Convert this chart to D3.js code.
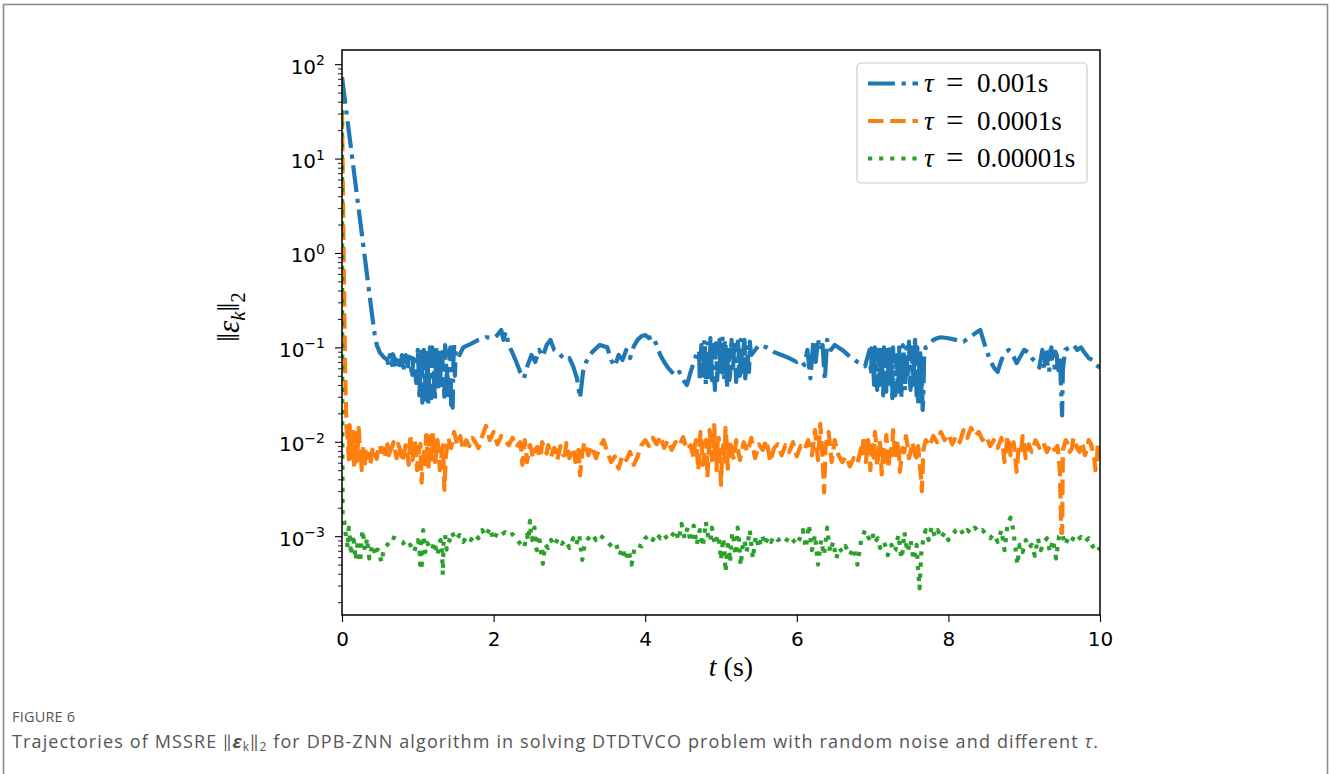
<!DOCTYPE html>
<html lang="en">
<head>
  <meta charset="UTF-8">
  <title>MSSRE trajectories</title>
  <style>
    body { margin: 0; background: #fff; }
    .axis path, .axis line { stroke: #000; }
    .tick text { font: 20px "DejaVu Sans", sans-serif; fill: #000; }
    .math { font-family: "Liberation Serif", "DejaVu Serif", serif; fill: #000; }
    .cap { font-family: "Open Sans", "Lato", sans-serif; fill: #555; }
  </style>
</head>
<body>
  <svg class="chart" width="1330" height="774"></svg>
  <script src="https://cdn.jsdelivr.net/npm/d3@7"></script>
  <script>
    // tick values
    var xTicks = [0, 2, 4, 6, 8, 10];
    var yExponents = [-3, -2, -1, 0, 1, 2];

    var seriesNames = ["0.001s", "0.0001s", "0.00001s"];

    // tau = 0.001s  [t, ||e||]
    var blue = [
      [0, 73], [0.1, 16.9], [0.2, 3.9], [0.3, 0.91], [0.4, 0.21], [0.43, 0.14], [0.46, 0.105], [0.5, 0.088], [0.55, 0.079],
      [0.6, 0.0735], [0.63, 0.083], [0.66, 0.065], [0.69, 0.077], [0.72, 0.061], [0.75, 0.08], [0.78, 0.07], [0.81, 0.055],
      [0.84, 0.083], [0.87, 0.063], [0.9, 0.089], [0.93, 0.051], [0.96, 0.0735], [0.98, 0.042], [1.0, 0.094],
      [1.02, 0.031], [1.04, 0.083], [1.06, 0.026], [1.08, 0.094], [1.1, 0.035], [1.12, 0.07], [1.14, 0.0245], [1.16, 0.1],
      [1.18, 0.029], [1.2, 0.077], [1.22, 0.034], [1.24, 0.103], [1.26, 0.04], [1.28, 0.0735], [1.3, 0.045], [1.32, 0.089],
      [1.34, 0.055], [1.36, 0.106], [1.38, 0.04], [1.4, 0.031], [1.42, 0.089], [1.44, 0.0245], [1.46, 0.023], [1.48, 0.106],
      [1.5, 0.094], [1.55, 0.083], [1.6, 0.1], [1.7, 0.109], [1.8, 0.12], [1.9, 0.128], [2.0, 0.125], [2.05, 0.135],
      [2.1, 0.153], [2.13, 0.12], [2.16, 0.146], [2.2, 0.106], [2.25, 0.087], [2.3, 0.07], [2.35, 0.055], [2.4, 0.047],
      [2.45, 0.065], [2.5, 0.083], [2.55, 0.07], [2.6, 0.094], [2.65, 0.08], [2.7, 0.106], [2.75, 0.12], [2.8, 0.094],
      [2.85, 0.089], [2.9, 0.08], [2.95, 0.0735], [3.0, 0.077], [3.05, 0.063], [3.1, 0.047], [3.14, 0.029], [3.18, 0.055],
      [3.22, 0.07], [3.3, 0.089], [3.4, 0.106], [3.5, 0.1], [3.55, 0.0735], [3.6, 0.063], [3.65, 0.083], [3.7, 0.0735],
      [3.75, 0.094], [3.8, 0.077], [3.85, 0.103], [3.9, 0.12], [3.95, 0.131], [4.0, 0.135], [4.05, 0.125], [4.1, 0.131],
      [4.15, 0.106], [4.2, 0.083], [4.25, 0.07], [4.3, 0.061], [4.35, 0.055], [4.4, 0.05], [4.45, 0.055], [4.5, 0.045],
      [4.55, 0.04], [4.6, 0.055], [4.65, 0.0735], [4.7, 0.094],
      [4.72, 0.047], [4.74, 0.106], [4.76, 0.058], [4.78, 0.12], [4.8, 0.04], [4.82, 0.094], [4.84, 0.055], [4.86, 0.125],
      [4.88, 0.045], [4.9, 0.106], [4.92, 0.0354], [4.94, 0.083], [4.96, 0.065], [4.98, 0.12], [5.0, 0.051], [5.02, 0.131],
      [5.04, 0.045], [5.06, 0.106], [5.08, 0.037], [5.1, 0.094], [5.12, 0.051], [5.14, 0.12], [5.16, 0.061], [5.18, 0.106],
      [5.2, 0.043], [5.22, 0.115], [5.24, 0.055], [5.26, 0.12], [5.28, 0.065], [5.3, 0.106], [5.32, 0.047], [5.34, 0.1],
      [5.36, 0.065], [5.38, 0.115], [5.4, 0.083],
      [5.5, 0.106], [5.6, 0.1], [5.7, 0.089], [5.8, 0.083], [5.9, 0.077], [6.0, 0.07], [6.05, 0.0735], [6.1, 0.065],
      [6.14, 0.094], [6.18, 0.047], [6.22, 0.12], [6.25, 0.07], [6.28, 0.125], [6.3, 0.094], [6.34, 0.106], [6.37, 0.045],
      [6.4, 0.12], [6.45, 0.094], [6.5, 0.106], [6.6, 0.094], [6.7, 0.08], [6.8, 0.07], [6.9, 0.063],
      [6.96, 0.094], [6.98, 0.051], [7.0, 0.106], [7.02, 0.04], [7.04, 0.083], [7.06, 0.0354], [7.08, 0.094], [7.1, 0.047],
      [7.12, 0.106], [7.14, 0.031], [7.16, 0.0735], [7.18, 0.034], [7.2, 0.094], [7.22, 0.037], [7.24, 0.106], [7.26, 0.029],
      [7.28, 0.065], [7.3, 0.031], [7.32, 0.083], [7.34, 0.034], [7.36, 0.055], [7.38, 0.029], [7.4, 0.106], [7.42, 0.04],
      [7.44, 0.083], [7.46, 0.051], [7.48, 0.115], [7.5, 0.0354], [7.52, 0.1], [7.54, 0.045], [7.56, 0.12], [7.58, 0.031],
      [7.6, 0.0245], [7.62, 0.094], [7.64, 0.0277], [7.66, 0.0217], [7.68, 0.083], [7.7, 0.1], [7.75, 0.106], [7.8, 0.12],
      [7.85, 0.125], [7.9, 0.128], [8.0, 0.125], [8.1, 0.12], [8.2, 0.115], [8.3, 0.131], [8.38, 0.146], [8.42, 0.153],
      [8.46, 0.12], [8.5, 0.094], [8.55, 0.0735], [8.6, 0.061], [8.65, 0.055], [8.7, 0.0735], [8.75, 0.089], [8.8, 0.094],
      [8.85, 0.083], [8.9, 0.068], [8.95, 0.08], [9.0, 0.094], [9.05, 0.089], [9.1, 0.077], [9.15, 0.07], [9.2, 0.061],
      [9.24, 0.094], [9.27, 0.058], [9.3, 0.089], [9.33, 0.055], [9.36, 0.1], [9.4, 0.061], [9.43, 0.083], [9.46, 0.055],
      [9.49, 0.031], [9.5, 0.019], [9.51, 0.058], [9.54, 0.094], [9.6, 0.1], [9.65, 0.106], [9.7, 0.094], [9.75, 0.1],
      [9.8, 0.087], [9.85, 0.077], [9.9, 0.0735], [9.95, 0.065], [10.0, 0.061],
      // denser readings inside the noisy bursts
      [0.61, 0.065], [0.64, 0.075], [0.67, 0.085], [0.7, 0.068], [0.73, 0.075], [0.76, 0.065], [0.79, 0.083],
      [0.82, 0.066], [0.85, 0.072], [0.88, 0.08], [0.91, 0.06], [0.94, 0.085], [0.97, 0.05], [0.99, 0.07],
      [1.01, 0.06], [1.03, 0.045], [1.05, 0.09], [1.07, 0.04], [1.09, 0.075], [1.11, 0.028], [1.13, 0.095], [1.15, 0.05],
      [1.17, 0.04], [1.19, 0.1], [1.21, 0.06], [1.23, 0.03], [1.25, 0.085], [1.27, 0.035], [1.29, 0.095], [1.31, 0.04],
      [1.33, 0.065], [1.35, 0.03], [1.37, 0.09], [1.39, 0.06], [1.41, 0.045], [1.43, 0.1], [1.45, 0.033], [1.47, 0.07],
      [1.49, 0.05],
      [4.71, 0.09], [4.73, 0.06], [4.75, 0.085], [4.77, 0.05], [4.79, 0.09], [4.81, 0.06], [4.83, 0.11], [4.85, 0.045],
      [4.87, 0.09], [4.89, 0.07], [4.91, 0.05], [4.93, 0.11], [4.95, 0.045], [4.97, 0.09], [4.99, 0.06], [5.01, 0.08],
      [5.03, 0.055], [5.05, 0.12], [5.07, 0.06], [5.09, 0.085], [5.11, 0.045], [5.13, 0.09], [5.15, 0.055], [5.17, 0.09],
      [5.19, 0.07], [5.21, 0.06], [5.23, 0.1], [5.25, 0.05], [5.27, 0.09], [5.29, 0.055], [5.31, 0.12], [5.33, 0.06],
      [5.35, 0.1], [5.37, 0.055], [5.39, 0.095],
      [6.97, 0.07], [6.99, 0.1], [7.01, 0.06], [7.03, 0.1], [7.05, 0.05], [7.07, 0.085], [7.09, 0.04], [7.11, 0.09],
      [7.13, 0.05], [7.15, 0.1], [7.17, 0.045], [7.19, 0.085], [7.21, 0.05], [7.23, 0.09], [7.25, 0.04], [7.27, 0.1],
      [7.29, 0.045], [7.31, 0.075], [7.33, 0.04], [7.35, 0.1], [7.37, 0.07], [7.39, 0.06], [7.41, 0.09], [7.43, 0.035],
      [7.45, 0.1], [7.47, 0.06], [7.49, 0.05], [7.51, 0.07], [7.53, 0.04], [7.55, 0.09], [7.57, 0.06], [7.59, 0.1],
      [7.61, 0.04], [7.63, 0.085], [7.65, 0.05], [7.67, 0.03], [7.69, 0.09],
      [9.25, 0.07], [9.28, 0.085], [9.31, 0.06], [9.34, 0.09], [9.37, 0.065], [9.41, 0.09], [9.44, 0.062], [9.47, 0.08]
    ];

    // tau = 0.0001s
    var orange = [
      [0, 30], [0.02, 1.2], [0.04, 0.06], [0.06, 0.014],
      [0.08, 0.0092], [0.1, 0.015], [0.12, 0.0061], [0.14, 0.0127], [0.16, 0.0055], [0.18, 0.0104], [0.2, 0.0072],
      [0.22, 0.014], [0.24, 0.0064], [0.26, 0.005], [0.28, 0.0092], [0.3, 0.0052], [0.33, 0.0067], [0.36, 0.0057],
      [0.4, 0.0082], [0.44, 0.0072], [0.48, 0.009], [0.52, 0.0078], [0.56, 0.0067], [0.6, 0.0094], [0.64, 0.0082],
      [0.68, 0.0099], [0.72, 0.0067], [0.76, 0.0086], [0.8, 0.0061], [0.84, 0.0092], [0.88, 0.0057], [0.9, 0.0118],
      [0.93, 0.0064], [0.96, 0.0104], [0.99, 0.005], [1.02, 0.0086], [1.05, 0.0037], [1.08, 0.0078], [1.11, 0.0118],
      [1.14, 0.0052], [1.17, 0.0092], [1.2, 0.0127], [1.23, 0.0061], [1.26, 0.0104], [1.29, 0.005], [1.32, 0.0082],
      [1.35, 0.0031], [1.37, 0.0072], [1.4, 0.011], [1.44, 0.0086], [1.48, 0.0127], [1.52, 0.0092], [1.56, 0.0115],
      [1.6, 0.0082], [1.64, 0.0104], [1.68, 0.009], [1.72, 0.011], [1.76, 0.0099], [1.8, 0.0086], [1.85, 0.0115],
      [1.9, 0.0147], [1.95, 0.0104], [2.0, 0.0127], [2.05, 0.0094], [2.1, 0.0115], [2.15, 0.0104], [2.2, 0.0092],
      [2.25, 0.011], [2.3, 0.0088], [2.35, 0.0099], [2.38, 0.0057], [2.41, 0.0104], [2.44, 0.0061], [2.48, 0.0092],
      [2.52, 0.0067], [2.56, 0.0086], [2.6, 0.0072], [2.64, 0.0099], [2.68, 0.0082], [2.72, 0.0092], [2.76, 0.007],
      [2.8, 0.0086], [2.84, 0.0064], [2.88, 0.009], [2.92, 0.0072], [2.96, 0.0097], [3.0, 0.0067], [3.04, 0.0086],
      [3.08, 0.0061], [3.12, 0.0082], [3.14, 0.0044], [3.17, 0.0078], [3.2, 0.0099], [3.25, 0.0072], [3.3, 0.009],
      [3.35, 0.0067], [3.4, 0.0086], [3.45, 0.0104], [3.5, 0.0078], [3.55, 0.0061], [3.6, 0.007], [3.65, 0.0052],
      [3.7, 0.0072], [3.75, 0.0064], [3.8, 0.0078], [3.85, 0.0057], [3.9, 0.007], [3.95, 0.0092], [4.0, 0.0104],
      [4.05, 0.009], [4.1, 0.011], [4.15, 0.0094], [4.2, 0.0115], [4.25, 0.0086], [4.3, 0.0104], [4.35, 0.0082],
      [4.4, 0.0099], [4.45, 0.009], [4.5, 0.0112], [4.55, 0.0082], [4.6, 0.0092], [4.64, 0.0067], [4.67, 0.0104],
      [4.7, 0.005], [4.73, 0.0127], [4.76, 0.0057], [4.79, 0.0092], [4.82, 0.0042], [4.85, 0.0133], [4.88, 0.0064],
      [4.91, 0.015], [4.94, 0.005], [4.97, 0.011], [5.0, 0.0035], [5.03, 0.0092], [5.06, 0.014], [5.09, 0.0052],
      [5.12, 0.0104], [5.15, 0.0072], [5.2, 0.0104], [5.25, 0.0064], [5.3, 0.0099], [5.35, 0.0078], [5.4, 0.011],
      [5.45, 0.0067], [5.5, 0.0094], [5.55, 0.0082], [5.6, 0.0104], [5.65, 0.0061], [5.7, 0.0086], [5.75, 0.0094],
      [5.8, 0.0072], [5.85, 0.0092], [5.9, 0.0078], [5.95, 0.0099], [6.0, 0.007], [6.05, 0.009], [6.1, 0.0082],
      [6.15, 0.0104], [6.2, 0.0072], [6.24, 0.0133], [6.28, 0.0064], [6.31, 0.0155], [6.34, 0.0067], [6.36, 0.0029],
      [6.38, 0.0092], [6.42, 0.0127], [6.46, 0.0061], [6.5, 0.0104], [6.55, 0.0072], [6.6, 0.0061], [6.65, 0.007],
      [6.7, 0.0055], [6.75, 0.0067], [6.8, 0.0059], [6.85, 0.0086], [6.88, 0.0115], [6.91, 0.0061], [6.94, 0.0104],
      [6.97, 0.005], [7.0, 0.0092], [7.03, 0.0127], [7.06, 0.0055], [7.09, 0.0104], [7.12, 0.0045], [7.15, 0.0082],
      [7.18, 0.0118], [7.21, 0.0052], [7.24, 0.0092], [7.27, 0.0133], [7.3, 0.0064], [7.33, 0.0104], [7.36, 0.0048],
      [7.4, 0.0086], [7.44, 0.0115], [7.48, 0.0067], [7.52, 0.0099], [7.56, 0.0072], [7.6, 0.009], [7.63, 0.005],
      [7.65, 0.003], [7.67, 0.0082], [7.7, 0.0104], [7.75, 0.009], [7.8, 0.0115], [7.85, 0.0099], [7.9, 0.0127],
      [7.95, 0.0104], [8.0, 0.012], [8.05, 0.0094], [8.1, 0.0115], [8.15, 0.0099], [8.2, 0.0133], [8.25, 0.011],
      [8.3, 0.014], [8.35, 0.0115], [8.4, 0.0127], [8.45, 0.0104], [8.5, 0.0115], [8.55, 0.009], [8.6, 0.0104],
      [8.65, 0.0086], [8.7, 0.011], [8.74, 0.0061], [8.78, 0.0115], [8.82, 0.0072], [8.86, 0.0099], [8.9, 0.0048],
      [8.94, 0.0092], [8.98, 0.0115], [9.02, 0.0067], [9.06, 0.0094], [9.1, 0.0078], [9.15, 0.0104], [9.2, 0.0086],
      [9.25, 0.0099], [9.3, 0.0078], [9.35, 0.0094], [9.4, 0.0082], [9.44, 0.009], [9.47, 0.005], [9.49, 0.00108],
      [9.5, 0.00108], [9.51, 0.0082], [9.55, 0.0104], [9.6, 0.0078], [9.65, 0.011], [9.7, 0.0086], [9.75, 0.0099],
      [9.8, 0.0072], [9.85, 0.0104], [9.9, 0.0082], [9.94, 0.005], [9.97, 0.0092], [10.0, 0.0067],
      // denser readings inside the noisy bursts
      [0.07, 0.012], [0.09, 0.0065], [0.11, 0.0085], [0.13, 0.0095], [0.15, 0.0075], [0.17, 0.0125], [0.19, 0.0062],
      [0.21, 0.0095], [0.23, 0.0105], [0.25, 0.0078], [0.27, 0.0068], [0.29, 0.0072], [0.31, 0.0085], [0.345, 0.0075],
      [0.38, 0.0062], [0.42, 0.0088], [0.46, 0.0066], [0.5, 0.0092], [0.54, 0.0085], [0.58, 0.0078], [0.62, 0.0072],
      [0.66, 0.0088], [0.7, 0.0082], [0.74, 0.0095], [0.78, 0.0072], [0.82, 0.0078], [0.86, 0.0082], [0.89, 0.0075],
      [0.915, 0.0085], [0.945, 0.0078], [0.975, 0.0082], [1.0, 0.0065], [1.035, 0.0095], [1.065, 0.0062],
      [1.095, 0.0058], [1.125, 0.0082], [1.155, 0.0115], [1.185, 0.0065], [1.215, 0.0088], [1.245, 0.0078],
      [1.275, 0.0082], [1.305, 0.0062], [1.335, 0.0092], [1.36, 0.0045], [1.385, 0.0085],
      [2.365, 0.0082], [2.395, 0.0072], [2.425, 0.0085], [2.46, 0.0075], [2.5, 0.0082], [2.54, 0.0078], [2.58, 0.0088],
      [2.62, 0.0068], [2.66, 0.0088], [2.7, 0.0075], [2.74, 0.0082], [2.78, 0.0078], [2.82, 0.0082], [2.86, 0.0075],
      [2.9, 0.0085], [2.94, 0.0072], [2.98, 0.0082], [3.02, 0.0075], [3.06, 0.0082], [3.1, 0.0072], [3.13, 0.0062],
      [4.655, 0.0092], [4.685, 0.0075], [4.715, 0.0085], [4.745, 0.0095], [4.775, 0.0072], [4.805, 0.0105],
      [4.835, 0.0068], [4.865, 0.0095], [4.895, 0.0078], [4.925, 0.0082], [4.955, 0.0098], [4.985, 0.0068],
      [5.015, 0.0075], [5.045, 0.0062], [5.075, 0.0095], [5.105, 0.0072], [5.135, 0.0088], [5.175, 0.0065],
      [6.865, 0.0072], [6.895, 0.0088], [6.925, 0.0078], [6.955, 0.0085], [6.985, 0.0075], [7.015, 0.0068],
      [7.045, 0.0098], [7.075, 0.0072], [7.105, 0.0088], [7.135, 0.0068], [7.165, 0.0062], [7.195, 0.0085],
      [7.225, 0.0078], [7.255, 0.0072], [7.285, 0.0098], [7.315, 0.0078], [7.345, 0.0082], [7.38, 0.0068],
      [7.42, 0.0078], [7.46, 0.0092], [7.5, 0.0078], [7.54, 0.0088], [7.58, 0.0068],
      [8.72, 0.0088], [8.76, 0.0082], [8.8, 0.0095], [8.84, 0.0085], [8.88, 0.0072], [8.92, 0.0075], [8.96, 0.0082],
      [9.0, 0.0092], [9.04, 0.0078], [9.08, 0.0085], [9.58, 0.0092], [9.63, 0.0085], [9.68, 0.0095], [9.73, 0.0078],
      [9.78, 0.0088], [9.83, 0.0082], [9.88, 0.0095], [9.92, 0.0072], [9.96, 0.0065]
    ];

    // tau = 0.00001s
    var green = [
      [0, 73], [0.004, 0.02], [0.008, 0.0016],
      [0.03, 0.00142], [0.06, 0.00091], [0.09, 0.00123], [0.12, 0.00063], [0.15, 0.00103], [0.18, 0.00056],
      [0.21, 0.00091], [0.24, 0.00053], [0.27, 0.00116], [0.3, 0.00071], [0.33, 0.00095], [0.36, 0.00058],
      [0.4, 0.00081], [0.44, 0.00062], [0.48, 0.00071], [0.52, 0.00053], [0.56, 0.00075], [0.6, 0.00081],
      [0.65, 0.00098], [0.7, 0.00095], [0.75, 0.00091], [0.8, 0.00087], [0.85, 0.00075], [0.9, 0.00081],
      [0.95, 0.00068], [1.0, 0.00091], [1.03, 0.0005], [1.05, 0.00044], [1.07, 0.00116], [1.1, 0.00068],
      [1.14, 0.00081], [1.18, 0.00071], [1.22, 0.00087], [1.26, 0.00063], [1.3, 0.00091], [1.33, 0.00039],
      [1.36, 0.00103], [1.4, 0.00081], [1.45, 0.0011], [1.5, 0.00091], [1.55, 0.00103], [1.6, 0.00087],
      [1.65, 0.001], [1.7, 0.00091], [1.75, 0.00105], [1.8, 0.00095], [1.85, 0.00116], [1.9, 0.001],
      [1.95, 0.00123], [2.0, 0.00091], [2.05, 0.0011], [2.1, 0.00103], [2.15, 0.0011], [2.2, 0.001],
      [2.25, 0.00105], [2.3, 0.00095], [2.35, 0.00083], [2.4, 0.00075], [2.44, 0.00103], [2.48, 0.00145],
      [2.51, 0.00091], [2.54, 0.00123], [2.57, 0.00071], [2.6, 0.00103], [2.63, 0.00063], [2.65, 0.00051],
      [2.68, 0.00081], [2.72, 0.00075], [2.76, 0.00091], [2.8, 0.00079], [2.85, 0.00095], [2.9, 0.00083],
      [2.95, 0.00091], [3.0, 0.00075], [3.05, 0.00095], [3.09, 0.00081], [3.13, 0.00103], [3.17, 0.00056],
      [3.2, 0.00081], [3.25, 0.00095], [3.3, 0.00105], [3.35, 0.00091], [3.4, 0.00103], [3.45, 0.00095],
      [3.5, 0.00087], [3.58, 0.00075], [3.62, 0.00081], [3.66, 0.00063], [3.7, 0.00075], [3.74, 0.00056],
      [3.78, 0.00071], [3.82, 0.0005], [3.86, 0.00075], [3.9, 0.00081], [3.95, 0.00078], [4.0, 0.00095],
      [4.05, 0.00103], [4.1, 0.00091], [4.15, 0.00107], [4.2, 0.00095], [4.25, 0.00105], [4.3, 0.00091],
      [4.35, 0.001], [4.4, 0.00116], [4.44, 0.00091], [4.48, 0.00135], [4.52, 0.00095], [4.56, 0.00123],
      [4.6, 0.00087], [4.64, 0.00129], [4.68, 0.00081], [4.72, 0.00116], [4.76, 0.00078], [4.8, 0.00142],
      [4.84, 0.00091], [4.88, 0.00123], [4.92, 0.00081], [4.96, 0.00103], [5.0, 0.00056], [5.03, 0.00095],
      [5.06, 0.00042], [5.09, 0.00081], [5.12, 0.00053], [5.15, 0.0011], [5.19, 0.00063], [5.22, 0.00123],
      [5.26, 0.00049], [5.3, 0.00091], [5.34, 0.00068], [5.38, 0.00116], [5.42, 0.00058], [5.46, 0.001],
      [5.5, 0.00075], [5.54, 0.00103], [5.58, 0.00081], [5.62, 0.00098], [5.66, 0.00087], [5.7, 0.001],
      [5.75, 0.00091], [5.8, 0.00095], [5.85, 0.00087], [5.9, 0.001], [5.95, 0.00091], [6.0, 0.00081],
      [6.04, 0.00095], [6.08, 0.00116], [6.12, 0.00075], [6.16, 0.00132], [6.2, 0.00071], [6.24, 0.00103],
      [6.28, 0.0005], [6.32, 0.00091], [6.36, 0.00063], [6.4, 0.00123], [6.44, 0.00068], [6.48, 0.00087],
      [6.52, 0.00058], [6.56, 0.00075], [6.6, 0.00068], [6.64, 0.00079], [6.7, 0.00063], [6.75, 0.00075],
      [6.8, 0.0005], [6.85, 0.00091], [6.9, 0.00116], [6.95, 0.00095], [7.0, 0.0011], [7.05, 0.00091],
      [7.1, 0.00075], [7.15, 0.00087], [7.2, 0.00063], [7.25, 0.00081], [7.3, 0.00071], [7.34, 0.00103],
      [7.38, 0.00058], [7.42, 0.0011], [7.46, 0.00068], [7.5, 0.00091], [7.54, 0.00056], [7.58, 0.00081],
      [7.6, 0.00044], [7.62, 0.00028], [7.64, 0.00063], [7.67, 0.00095], [7.7, 0.00116], [7.74, 0.00091],
      [7.78, 0.00126], [7.82, 0.001], [7.86, 0.00116], [7.9, 0.00095], [7.95, 0.0011], [8.0, 0.00091],
      [8.05, 0.00103], [8.1, 0.00116], [8.15, 0.00123], [8.2, 0.00103], [8.25, 0.00116], [8.3, 0.00107],
      [8.35, 0.00123], [8.4, 0.0011], [8.45, 0.00116], [8.5, 0.00103], [8.55, 0.00095], [8.6, 0.00105],
      [8.65, 0.00087], [8.7, 0.00116], [8.74, 0.00071], [8.78, 0.00132], [8.82, 0.00157], [8.85, 0.00123],
      [8.88, 0.00081], [8.91, 0.0005], [8.94, 0.00081], [8.98, 0.00068], [9.02, 0.00091], [9.06, 0.00075],
      [9.1, 0.00081], [9.14, 0.00062], [9.18, 0.00095], [9.22, 0.00071], [9.26, 0.00087], [9.3, 0.00095],
      [9.34, 0.00068], [9.38, 0.00091], [9.42, 0.00058], [9.46, 0.001], [9.5, 0.00107], [9.54, 0.00081],
      [9.58, 0.00095], [9.62, 0.00087], [9.66, 0.001], [9.7, 0.00091], [9.75, 0.00098], [9.8, 0.00087],
      [9.85, 0.00095], [9.9, 0.00079], [9.95, 0.00068], [10.0, 0.00075],
      // denser readings inside the noisy bursts
      [0.045, 0.0011], [0.075, 0.00075], [0.105, 0.00095], [0.135, 0.00085], [0.165, 0.00075], [0.195, 0.0007],
      [0.225, 0.00068], [0.255, 0.00085], [0.285, 0.00095], [0.315, 0.00078], [0.345, 0.00072], [0.38, 0.00068],
      [0.42, 0.00075], [0.46, 0.00072], [0.5, 0.00062], [0.54, 0.00065],
      [1.02, 0.0008], [1.04, 0.00085], [1.06, 0.00078], [1.12, 0.00085], [1.16, 0.00075], [1.2, 0.00078],
      [1.24, 0.00072], [1.28, 0.00082], [1.32, 0.00068], [1.34, 0.00085], [1.38, 0.00072],
      [2.46, 0.0009], [2.49, 0.0011], [2.52, 0.00115], [2.55, 0.0008], [2.58, 0.00095], [2.61, 0.00085], [2.64, 0.00072],
      [4.7, 0.001], [4.74, 0.00095], [4.78, 0.00105], [4.82, 0.0011], [4.86, 0.00088], [4.9, 0.00098], [4.94, 0.00092],
      [4.98, 0.00082], [5.015, 0.00075], [5.045, 0.0007], [5.075, 0.00062], [5.105, 0.00075], [5.135, 0.00085],
      [5.17, 0.0009], [5.205, 0.00078], [5.24, 0.00085], [5.28, 0.00072], [5.32, 0.00082], [5.36, 0.00092],
      [5.4, 0.00082], [5.44, 0.00078], [5.48, 0.00088],
      [7.02, 0.00085], [7.07, 0.00095], [7.12, 0.00082], [7.17, 0.00078], [7.22, 0.00072], [7.27, 0.00068],
      [7.32, 0.00085], [7.36, 0.00078], [7.4, 0.00072], [7.44, 0.00085], [7.48, 0.00078], [7.52, 0.00072],
      [7.56, 0.00068]
    ];

    var lw = 4.2;
    var colors = ["#1f77b4", "#ff7f0e", "#2ca02c"];
    var dashes = [
      [26.9, 6.7, 4.2, 6.7].join(","),
      [15.5, 6.7].join(","),
      [4.2, 6.9].join(",")
    ];
    var byTime = function(a, b) { return a[0] - b[0]; };
    var seriesData = [blue, orange, green].map(function(s) { return s.slice().sort(byTime); });

    var margin = {top: 50, right: 230, bottom: 159, left: 342},
      width = 1330 - margin.left - margin.right,
      height = 774 - margin.top - margin.bottom;

    var svg = d3.select(".chart");

    // figure frame
    svg.append("rect")
      .attr("x", 3.5).attr("y", 4.5)
      .attr("width", 1324).attr("height", 820)
      .attr("fill", "none")
      .attr("stroke", "#8c8c8c")
      .attr("stroke-width", 1.6);

    var x = d3.scaleLinear()
      .domain([0, 10])
      .range([0, width]);

    var y = d3.scaleLog()
      .domain([Math.pow(10, -3.835), Math.pow(10, 2.15)])
      .range([height, 0]);

    var chart = svg.append("g")
      .attr("transform", "translate(" + margin.left + "," + margin.top + ")");

    chart.append("clipPath").attr("id", "clip")
      .append("rect").attr("width", width).attr("height", height);

    var line = d3.line()
      .x(function(d) { return x(d[0]); })
      .y(function(d) { return y(d[1]); });

    chart.append("g").attr("clip-path", "url(#clip)")
      .selectAll("path")
      .data(seriesData)
      .enter().append("path")
      .attr("d", line)
      .attr("fill", "none")
      .attr("stroke", function(d, i) { return colors[i]; })
      .attr("stroke-width", lw)
      .attr("stroke-dasharray", function(d, i) { return dashes[i]; })
      .attr("stroke-linejoin", "round")
      .attr("stroke-linecap", "butt");

    // x axis
    var xAxis = chart.append("g")
      .attr("class", "x axis")
      .attr("transform", "translate(0," + height + ")")
      .call(d3.axisBottom(x).tickValues(xTicks).tickSize(7).tickPadding(10).tickFormat(d3.format("d")));
    xAxis.select(".domain").remove();
    xAxis.selectAll(".tick line").attr("stroke-width", 1.1);

    // y axis minor ticks
    var minor = [];
    for (var e = -4; e <= 2; e++) {
      for (var k = 2; k <= 9; k++) {
        var v = k * Math.pow(10, e);
        if (v >= y.domain()[0] && v <= y.domain()[1]) minor.push(v);
      }
    }
    var yMinor = chart.append("g").attr("class", "y axis")
      .call(d3.axisLeft(y).tickValues(minor).tickSize(4).tickFormat(""));
    yMinor.select(".domain").remove();
    yMinor.selectAll(".tick line").attr("stroke-width", 0.9);

    var yAxis = chart.append("g").attr("class", "y axis")
      .call(d3.axisLeft(y).tickValues(yExponents.map(function(p) { return Math.pow(10, p); }))
        .tickSize(7).tickFormat(""));
    yAxis.select(".domain").remove();
    yAxis.selectAll(".tick line").attr("stroke-width", 1.1);
    yAxis.selectAll(".tick").each(function(d, i) {
      var t = d3.select(this).append("text")
        .attr("x", -17).attr("y", 9)
        .attr("text-anchor", "end");
      t.append("tspan").text("10");
      var p = yExponents[i];
      t.append("tspan")
        .attr("dy", -8.5)
        .attr("font-size", "14px")
        .text(p < 0 ? "\u2212" + Math.abs(p) : String(p));
    });

    // spines
    chart.append("rect")
      .attr("width", width).attr("height", height)
      .attr("fill", "none").attr("stroke", "#000").attr("stroke-width", 1.5);

    // axis labels
    var xl = svg.append("text").attr("class", "math")
      .attr("x", 731).attr("y", 676)
      .attr("text-anchor", "middle").attr("font-size", "28px");
    xl.append("tspan").attr("font-style", "italic").text("t");
    xl.append("tspan").text(" (s)");

    var yl = svg.append("text").attr("class", "math")
      .attr("transform", "translate(239,317) rotate(-90)")
      .attr("text-anchor", "middle").attr("font-size", "31px");
    yl.append("tspan").text("\u2016");
    yl.append("tspan").attr("font-style", "italic").text("\u03b5");
    yl.append("tspan").attr("font-style", "italic").attr("font-size", "21px").attr("dy", 6).text("k");
    yl.append("tspan").attr("dy", -6).text("\u2016");
    yl.append("tspan").attr("font-size", "21px").attr("dy", 6).text("2");

    // legend
    var lg = svg.append("g").attr("transform", "translate(857,63)");
    lg.append("rect")
      .attr("width", 230).attr("height", 120).attr("rx", 4)
      .attr("fill", "#fff").attr("fill-opacity", 0.8)
      .attr("stroke", "#cccccc").attr("stroke-width", 1.2);
    var row = lg.selectAll(".row").data(seriesNames).enter().append("g")
      .attr("transform", function(d, i) { return "translate(0," + (20.5 + i * 37.5) + ")"; });
    row.append("line")
      .attr("x1", 11).attr("x2", 61)
      .attr("stroke", function(d, i) { return colors[i]; })
      .attr("stroke-width", lw)
      .attr("stroke-dasharray", function(d, i) { return dashes[i]; });
    var lt = row.append("text").attr("class", "math")
      .attr("y", 8.5).attr("font-size", "27px");
    lt.append("tspan").attr("x", 67).attr("font-style", "italic").text("\u03c4");
    lt.append("tspan").attr("x", 89).attr("font-size", "31px").attr("dy", 1).text("=");
    lt.append("tspan").attr("x", 120).attr("dy", -1).text(function(d) { return d; });

    // caption
    svg.append("text").attr("class", "cap")
      .attr("x", 12).attr("y", 722)
      .attr("font-size", "14.5px").attr("letter-spacing", "0.2px")
      .text("FIGURE 6");
    var cap = svg.append("text").attr("class", "cap")
      .attr("x", 12).attr("y", 748).attr("font-size", "18px")
      .attr("textLength", 1086).attr("lengthAdjust", "spacing");
    cap.append("tspan").text("Trajectories of MSSRE \u2016");
    cap.append("tspan").attr("font-weight", "bold").attr("font-style", "italic").text("\u03b5");
    cap.append("tspan").attr("font-size", "12px").attr("dy", 3).text("k");
    cap.append("tspan").attr("dy", -3).text("\u2016");
    cap.append("tspan").attr("font-size", "12px").attr("dy", 3).text("2");
    cap.append("tspan").attr("dy", -3).text(" for DPB-ZNN algorithm in solving DTDTVCO problem with random noise and different ");
    cap.append("tspan").attr("font-style", "italic").text("\u03c4");
    cap.append("tspan").text(".");
  </script>
</body>
</html>
